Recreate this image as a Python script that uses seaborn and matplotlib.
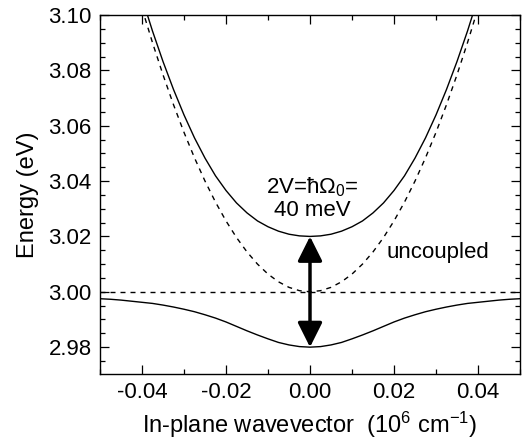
import numpy as np
import pandas as pd
import matplotlib
matplotlib.use("Agg")
import matplotlib.pyplot as plt
import seaborn as sns
from matplotlib.patches import FancyArrowPatch
from matplotlib.ticker import MultipleLocator

# In-plane wavevector (10^6 cm^-1), positive half; curves are symmetric in k
k_half = [0.0, 0.0025, 0.005, 0.0075, 0.01, 0.0125, 0.015, 0.0175, 0.02,
          0.0225, 0.025, 0.0275, 0.03, 0.0325, 0.035, 0.0375, 0.04, 0.0425,
          0.045, 0.0475, 0.05]

# Lower polariton branch (eV)
lower_half = [2.9800, 2.9802, 2.9808, 2.9817, 2.9830, 2.9844, 2.9859, 2.9875,
              2.9891, 2.9905, 2.9917, 2.9928, 2.9937, 2.9945, 2.9952, 2.9958,
              2.9962, 2.9966, 2.9970, 2.9973, 2.9975]

# Upper polariton branch (eV)
upper_half = [3.0200, 3.0202, 3.0208, 3.0219, 3.0235, 3.0256, 3.0285, 3.0321,
              3.0366, 3.0419, 3.0483, 3.0556, 3.0639, 3.0731, 3.0832, 3.0942,
              3.1062, 3.1190]

# Uncoupled cavity photon (eV)
photon_half = [3.0000, 3.0004, 3.0016, 3.0036, 3.0064, 3.0100, 3.0144, 3.0196,
               3.0256, 3.0324, 3.0400, 3.0484, 3.0576, 3.0676, 3.0784, 3.0900,
               3.1024, 3.1156]

# Uncoupled exciton level (eV)
exciton_energy = 3.00

# Rabi splitting at k = 0
split_low, split_high = 2.98, 3.02

x_ticks = [-0.04, -0.02, 0.00, 0.02, 0.04]
y_ticks = [2.98, 3.00, 3.02, 3.04, 3.06, 3.08, 3.10]


def mirror(k, e):
    k = np.asarray(k[:len(e)])
    e = np.asarray(e)
    return np.concatenate([-k[:0:-1], k]), np.concatenate([e[:0:-1], e])


sns.set_theme(style="ticks")
plt.rcParams["font.family"] = ["Liberation Sans", "DejaVu Sans"]
plt.rcParams["mathtext.fontset"] = "custom"
plt.rcParams["mathtext.rm"] = "Liberation Sans"
plt.rcParams["mathtext.it"] = "Liberation Sans"
plt.rcParams["axes.unicode_minus"] = False
plt.rcParams["text.color"] = "black"
plt.rcParams["axes.labelcolor"] = "black"

fig = plt.figure(figsize=(5.24, 4.47), dpi=100)
ax = fig.add_axes([100 / 524, 1 - 374 / 447, 420 / 524, (374 - 15) / 447])

frames = []
for name, vals in [("lower", lower_half), ("upper", upper_half), ("photon", photon_half)]:
    kk, ee = mirror(k_half, vals)
    frames.append(pd.DataFrame({"k": kk, "E": ee, "branch": name}))
df = pd.concat(frames, ignore_index=True)

for name in ["lower", "upper"]:
    sns.lineplot(data=df[df.branch == name], x="k", y="E", ax=ax,
                 color="black", lw=1.0, estimator=None)
sns.lineplot(data=df[df.branch == "photon"], x="k", y="E", ax=ax,
             color="black", lw=1.0, estimator=None, linestyle=(0, (3.6, 3.6)))
ax.axhline(exciton_energy, color="black", lw=1.0, linestyle=(0, (3.6, 3.6)))

arrow = FancyArrowPatch((0.0, split_low), (0.0, split_high),
                        arrowstyle="<|-|>,head_length=1.0,head_width=0.5",
                        mutation_scale=15, lw=2.5, color="black",
                        shrinkA=0, shrinkB=0)
ax.add_patch(arrow)

ax.text(0.0005, 3.0338, "2V=ħΩ$_0$=\n40 meV", ha="center", va="center",
        fontsize=16, linespacing=1.1, color="black")
ax.text(0.0305, 3.0141, "uncoupled", ha="center", va="center", fontsize=16,
        color="black")

ax.set_xlim(-0.05, 0.05)
ax.set_ylim(2.9703, 3.10)
ax.set_xticks(x_ticks)
ax.set_xticklabels([f"{v:.2f}" for v in x_ticks])
ax.set_yticks(y_ticks)
ax.set_yticklabels([f"{v:.2f}" for v in y_ticks])
ax.xaxis.set_minor_locator(MultipleLocator(0.01))
ax.yaxis.set_minor_locator(MultipleLocator(0.005))
ax.tick_params(which="both", direction="in", top=True, right=True,
               width=0.9, color="black", labelsize=16, labelcolor="black")
ax.tick_params(which="major", length=6.5, pad=6)
ax.tick_params(which="minor", length=3.6)
for s in ax.spines.values():
    s.set_linewidth(1.0)
    s.set_color("black")

ax.set_xlabel("In-plane wavevector  (10$^{6}$ cm$^{-1}$)", fontsize=17,
              labelpad=5, color="black")
ax.set_ylabel("Energy (eV)", fontsize=17, labelpad=7, color="black")

fig.savefig("out.png", dpi=100)
